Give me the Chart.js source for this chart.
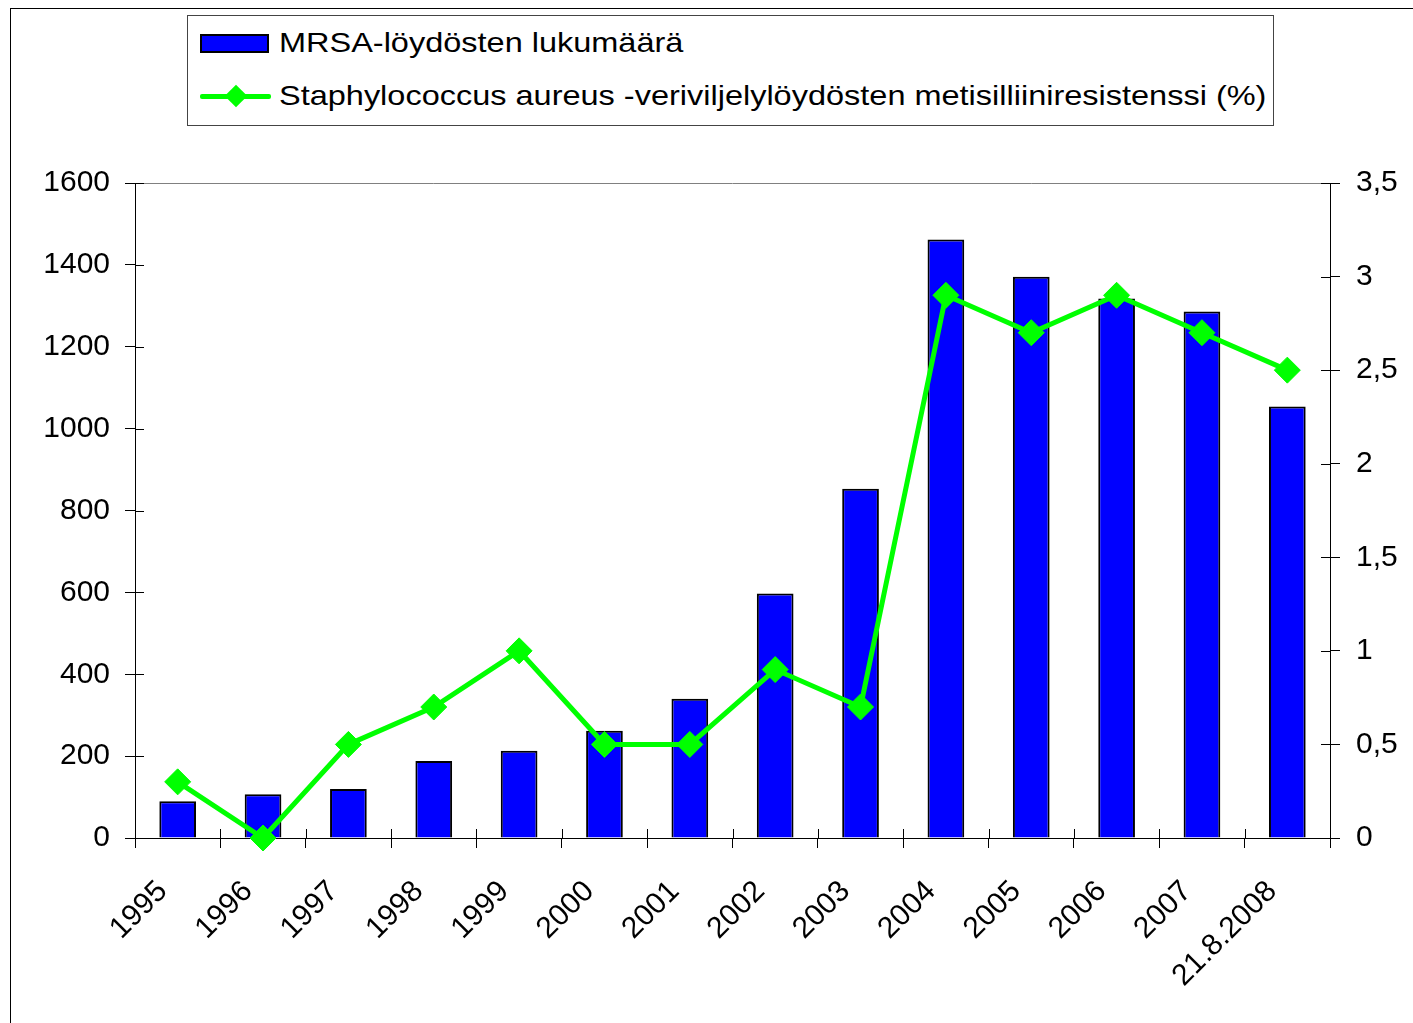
<!DOCTYPE html>
<html><head><meta charset="utf-8">
<script src="https://cdn.jsdelivr.net/npm/chart.js@4/dist/chart.umd.min.js"></script>
<style>
html,body{margin:0;padding:0;background:#fff;overflow:hidden;width:1413px;height:1023px}
#frame{position:absolute;left:10px;top:8px;width:1440px;height:1060px;border:1px solid #000}
#wrap{position:absolute;left:0;top:0;width:1413px;height:1023px}
#legend{position:absolute;left:187px;top:15px;width:1085px;height:109px;border:1px solid #444;background:#fff;font-family:'Liberation Sans',Arial,sans-serif;font-size:28px;color:#000}
.row{position:absolute;left:12px;height:36px;display:flex;align-items:center;white-space:nowrap}
.sw{position:relative;width:71px;height:36px;margin-right:8px;flex:none}
.bar{position:absolute;left:0;top:9px;width:65px;height:15px;background:#0000ff;border:2px solid #000}
.ln{position:absolute;left:0;top:16px;width:71px;height:5px;background:#00ff00;border-radius:2px}
.dm{position:absolute;left:28px;top:10px;width:16px;height:16px;background:#00ff00;transform:rotate(45deg)}
.txt{display:inline-block;transform-origin:0 50%;transform:scaleX(1.16)}
</style>
</head><body>
<div id="frame"></div>
<div id="wrap"><canvas id="c" width="1413" height="1023"></canvas></div>
<div id="legend">
  <div class="row" style="top:9px"><div class="sw"><div class="bar"></div></div><span class="txt" id="l1"></span></div>
  <div class="row" style="top:62px"><div class="sw"><div class="ln"></div><div class="dm"></div></div><span class="txt" id="l2"></span></div>
</div>
<script>
const categories = ['1995','1996','1997','1998','1999','2000','2001','2002','2003','2004','2005','2006','2007','21.8.2008'];
const mrsaCounts = [90,107,120,188,213,262,340,597,853,1462,1371,1318,1286,1054];
const resistancePct = [0.3,0,0.5,0.7,1.0,0.5,0.5,0.9,0.7,2.9,2.7,2.9,2.7,2.5];
const seriesNames = ['MRSA-löydösten lukumäärä','Staphylococcus aureus -veriviljelylöydösten metisilliiniresistenssi (%)'];
const leftTicks = [0,200,400,600,800,1000,1200,1400,1600];
const rightTicks = [0,0.5,1,1.5,2,2.5,3,3.5];

document.getElementById('l1').textContent = seriesNames[0];
document.getElementById('l2').textContent = seriesNames[1];

const FONT = {family:"'Liberation Sans', Arial, sans-serif", size:30};

const extras = {
  id:'extras',
  beforeDatasetsDraw(chart){
    const {ctx, chartArea:a, scales} = chart;
    ctx.save();
    ctx.strokeStyle = '#808080'; ctx.lineWidth = 1;
    ctx.beginPath(); ctx.moveTo(a.left, Math.round(a.top)+0.5); ctx.lineTo(a.right, Math.round(a.top)+0.5); ctx.stroke();
    ctx.strokeStyle = '#000';
    ctx.beginPath();
    for (let i = 0; i <= categories.length; i++) {
      const px = Math.round(scales.x.getPixelForValue(i - 0.5)) + 0.5;
      ctx.moveTo(px, a.bottom); ctx.lineTo(px, a.bottom - 9);
    }
    leftTicks.forEach(v => {
      const py = Math.round(scales.y.getPixelForValue(v)) + 0.5;
      ctx.moveTo(a.left, py); ctx.lineTo(a.left + 9, py);
    });
    rightTicks.forEach(v => {
      const py = Math.round(scales.y1.getPixelForValue(v)) + 0.5;
      ctx.moveTo(a.right, py); ctx.lineTo(a.right - 9, py);
    });
    ctx.stroke();
    ctx.restore();
  }
};

new Chart(document.getElementById('c'), {
  type:'bar',
  data:{
    labels: categories,
    datasets:[
      {type:'bar', label:seriesNames[0], data:mrsaCounts, yAxisID:'y', backgroundColor:'#0000ff', borderColor:'#000', borderWidth:2, barPercentage:0.43, categoryPercentage:1, order:2},
      {type:'line', label:seriesNames[1], data:resistancePct, yAxisID:'y1', borderColor:'#00ff00', backgroundColor:'#00ff00', borderWidth:5, pointStyle:'rectRot', pointRadius:13, pointHoverRadius:13, pointBackgroundColor:'#00ff00', pointBorderColor:'#00ff00', pointBorderWidth:1, tension:0, clip:false, order:1}
    ]
  },
  options:{
    responsive:false, animation:false, devicePixelRatio:1,
    layout:{padding:{top:183, left:0, right:0, bottom:0}},
    plugins:{legend:{display:false}, tooltip:{enabled:false}},
    scales:{
      x:{
        offset:true,
        grid:{offset:true, drawOnChartArea:false, tickLength:10, color:'#000', tickColor:'#000'},
        border:{color:'#000', width:1},
        ticks:{font:FONT, color:'#000', maxRotation:45, minRotation:45, padding:26, labelOffset:-15, autoSkip:false},
        afterFit(s){ s.height = 185; }
      },
      y:{
        position:'left', min:0, max:1600,
        afterBuildTicks(s){ s.ticks = leftTicks.map(v => ({value:v})); },
        grid:{drawOnChartArea:false, tickLength:10, color:'#000', tickColor:'#000'},
        border:{color:'#000', width:1},
        ticks:{font:FONT, color:'#000', padding:15, callback:v => String(v)},
        afterFit(s){ s.width = 135; }
      },
      y1:{
        position:'right', min:0, max:3.5,
        afterBuildTicks(s){ s.ticks = rightTicks.map(v => ({value:v})); },
        grid:{drawOnChartArea:false, tickLength:10, color:'#000', tickColor:'#000'},
        border:{color:'#000', width:1},
        ticks:{font:FONT, color:'#000', padding:16, callback:v => String(v).replace('.', ',')},
        afterFit(s){ s.width = 83; }
      }
    }
  },
  plugins:[extras]
});
</script>
</body></html>
